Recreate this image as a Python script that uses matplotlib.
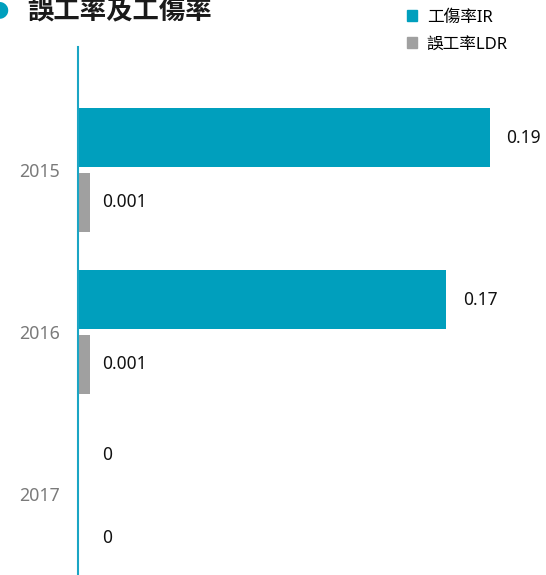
import matplotlib
matplotlib.use("Agg")
import matplotlib.pyplot as plt
from matplotlib.patches import Patch
import numpy as np

plt.rcParams['font.family'] = ['Noto Sans', 'Noto Sans CJK TC', 'DejaVu Sans']

years = ["2015", "2016", "2017"]
ir_values = [0.19, 0.17, 0]
ldr_values = [0.001, 0.001, 0]
ir_labels = ["0.19", "0.17", "0"]
ldr_labels = ["0.001", "0.001", "0"]
series_names = ["工傷率IR", "誤工率LDR"]
title = "誤工率及工傷率"

teal = "#009fbd"
gray = "#a0a0a0"
min_visible = 0.0055  # minimum drawn width for tiny non-zero values

fig = plt.figure(figsize=(5.46, 5.75), dpi=100)
ax = fig.add_axes([78/546, 0, 1 - 78/546, 1 - 47/575])

y = np.arange(len(years))
h = 0.364
off = 0.2

def disp(v):
    return [0 if x == 0 else max(x, min_visible) for x in v]

ax.barh(y - off, disp(ir_values), height=h, color=teal, linewidth=0)
ax.barh(y + off, disp(ldr_values), height=h, color=gray, linewidth=0)

for yi, v, raw, lab in zip(y - off, disp(ir_values), ir_values, ir_labels):
    dy = 5 if raw == 0 else 0
    dx = 12 if raw != 0 else 9
    ax.annotate(lab, (max(v, min_visible), yi), xytext=(dx, dy), textcoords="offset points",
                va="center", ha="left", fontsize=12.5, color="#111111")
for yi, v, raw, lab in zip(y + off, disp(ldr_values), ldr_values, ldr_labels):
    dy = -8 if raw == 0 else 0
    ax.annotate(lab, (max(v, min_visible), yi), xytext=(9, dy), textcoords="offset points",
                va="center", ha="left", fontsize=12.5, color="#111111")

ax.set_xlim(0, 0.216)
ax.set_ylim(2.5, -0.76)
ax.set_yticks(y)
ax.set_yticklabels(years, fontsize=12.8, color="#7a7a7a")
ax.tick_params(axis='y', length=0, pad=13)
ax.set_xticks([])
for s in ["top", "right", "bottom"]:
    ax.spines[s].set_visible(False)
ax.spines["left"].set_color("#1aa5c4")
ax.spines["left"].set_linewidth(1.5)

# title with bullet
fig.text(-0.018, 1 - 9/575, "●", fontsize=16, color=teal, va="center", ha="left",
         family=['DejaVu Sans'])
fig.text(27/546, 1 - 11/575, title, fontsize=19, fontweight="bold", color="#1a1a1a",
         va="center", ha="left", family=['Noto Sans CJK TC'])

handles = [Patch(color=teal), Patch(color=gray)]
leg = fig.legend(handles, series_names, loc="upper left", bbox_to_anchor=(400/546, 1 - 3/575),
                 frameon=False, fontsize=12, handlelength=0.6, handleheight=0.6,
                 handletextpad=0.6, labelspacing=0.65, borderaxespad=0)

fig.savefig("out.png", dpi=100)
